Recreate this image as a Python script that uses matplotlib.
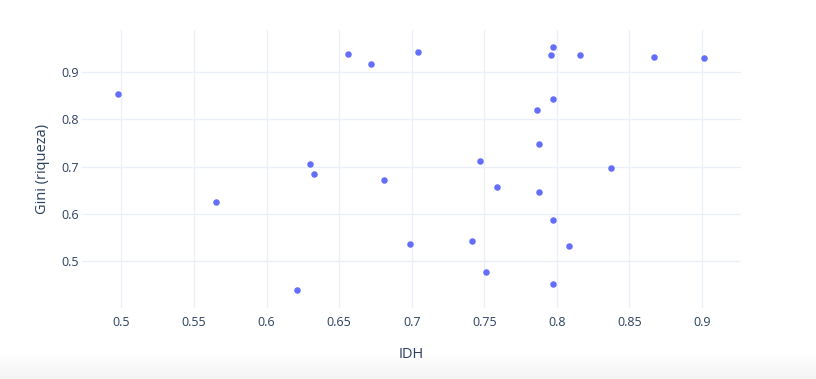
import matplotlib.pyplot as plt
import numpy as np

idh = [0.498, 0.565, 0.621, 0.630, 0.633, 0.656, 0.672, 0.681, 0.699, 0.704,
       0.7975, 0.796, 0.816, 0.867, 0.9015, 0.7975, 0.786, 0.7875, 0.747, 0.837,
       0.7585, 0.7875, 0.7975, 0.7415, 0.8085, 0.751, 0.7975]
gini = [0.855, 0.625, 0.439, 0.705, 0.685, 0.939, 0.917, 0.671, 0.536, 0.944,
        0.953, 0.937, 0.936, 0.933, 0.931, 0.843, 0.821, 0.749, 0.712, 0.698,
        0.657, 0.647, 0.587, 0.542, 0.531, 0.477, 0.451]

xticks = [0.5, 0.55, 0.6, 0.65, 0.7, 0.75, 0.8, 0.85, 0.9]
yticks = [0.5, 0.6, 0.7, 0.8, 0.9]

plt.rcParams['font.family'] = ['Open Sans', 'DejaVu Sans']
texto = '#2a3f5f'

fig = plt.figure(figsize=(8.16, 3.79), dpi=100)

# sombra gris del borde inferior
fondo = fig.add_axes([0, 0, 1, 1], zorder=-1)
grad = np.linspace(0.955, 1.0, 100).reshape(-1, 1)
fondo.imshow(np.dstack([grad, grad, grad]), extent=[0, 1, 0, 25 / 379],
             aspect='auto', origin='lower')
fondo.set_xlim(0, 1)
fondo.set_ylim(0, 1)
fondo.axis('off')

ax = fig.add_axes([82 / 816, 71 / 379, 659 / 816, 278 / 379])
ax.scatter(idh, gini, s=22, color='#636efa', linewidths=0, zorder=3)

ax.set_xlim(0.4729, 0.9268)
ax.set_ylim(0.4002, 0.9898)
ax.set_xticks(xticks)
ax.set_xticklabels([f'{t:g}' for t in xticks])
ax.set_yticks(yticks)
ax.set_yticklabels([f'{t:g}' for t in yticks])
ax.grid(True, color='#ebf0f8', linewidth=1)
ax.set_axisbelow(True)
for lado in ax.spines.values():
    lado.set_visible(False)
ax.set_facecolor('none')
ax.tick_params(axis='x', length=0, labelsize=9, colors=texto, pad=6)
ax.tick_params(axis='y', length=0, labelsize=9, colors=texto, pad=2)

ax.set_xlabel('IDH', fontsize=10.5, color=texto, labelpad=13)
ax.set_ylabel('Gini (riqueza)', fontsize=10.5, color=texto, labelpad=8)

fig.savefig('out.png', dpi=100)
